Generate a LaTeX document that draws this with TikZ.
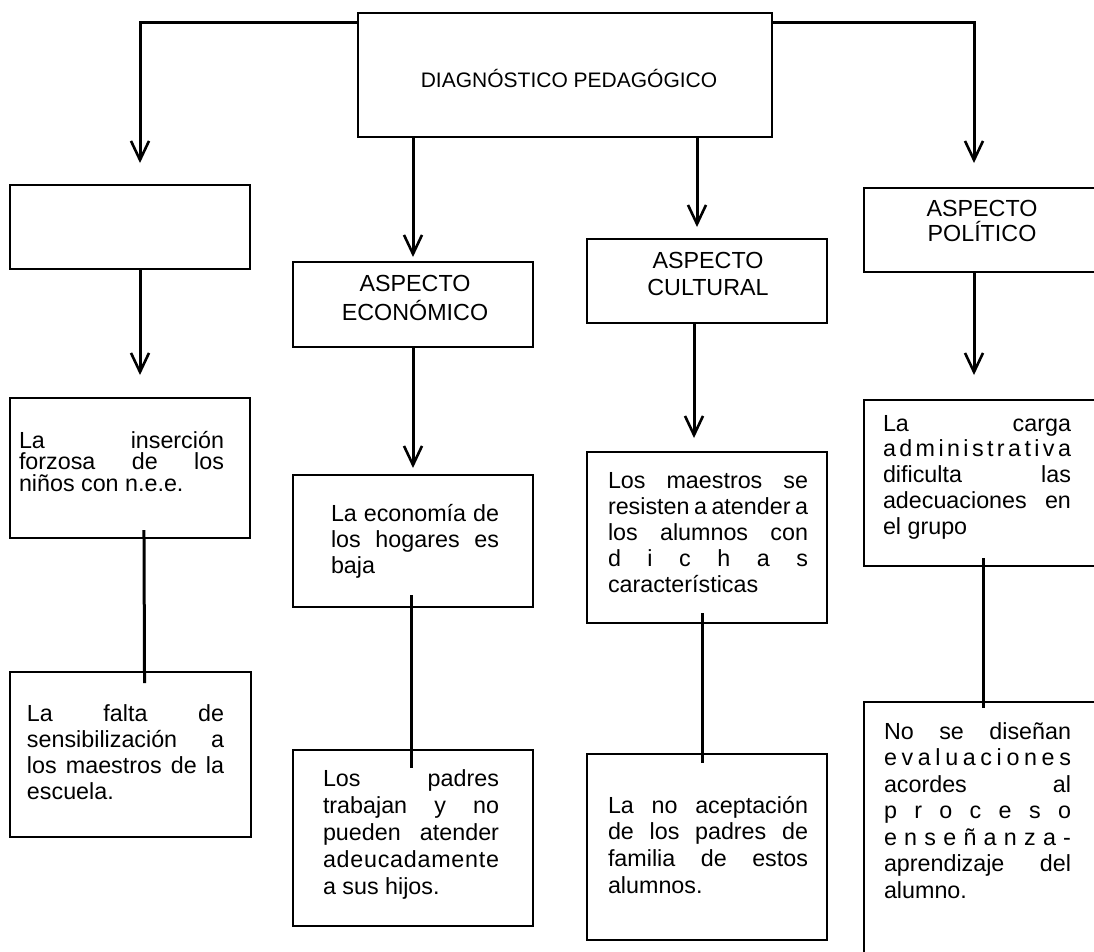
\documentclass[tikz,border=0pt]{standalone}
\usepackage{fontspec}
\setmainfont{Liberation Sans}
\newfontfamily\boxfont{Liberation Sans}
\usetikzlibrary{arrows.meta}
\newcommand\J[1]{\makebox[\linewidth][s]{#1}}
\begin{document}
\begin{tikzpicture}[x=1pt,y=1pt,
  box/.style={draw, line width=2.4pt, inner sep=0pt, outer sep=0pt, anchor=north west},
  conn/.style={line width=3pt},
  arr/.style={conn, -{Straight Barb[length=19pt,width=18pt,line width=2.6pt]}},
  txt/.style={inner sep=0pt, outer sep=0pt, anchor=base west, font=\boxfont\fontsize{23.3}{26}\selectfont},
  lbl/.style={inner sep=0pt, outer sep=0pt, anchor=base, font=\boxfont\fontsize{23.3}{26}\selectfont}]
\useasboundingbox (0,0) rectangle (1094,-951);
\clip (0,0) rectangle (1094,-951);
\fill[white] (0,0) rectangle (1094,-951);

% boxes
\node[box, minimum width=414pt, minimum height=124pt] (T) at (358,-13) {};
\node[box, minimum width=240pt, minimum height=84pt]  (A0) at (10,-185) {};
\node[box, minimum width=240pt, minimum height=140pt] (A1) at (10,-398) {};
\node[box, minimum width=241pt, minimum height=165pt] (A2) at (10,-672) {};
\node[box, minimum width=240pt, minimum height=85pt]  (B0) at (293,-262) {};
\node[box, minimum width=240pt, minimum height=132pt] (B1) at (293,-475) {};
\node[box, minimum width=240pt, minimum height=176pt] (B2) at (293,-750) {};
\node[box, minimum width=240pt, minimum height=84pt]  (C0) at (587,-239) {};
\node[box, minimum width=240pt, minimum height=171pt] (C1) at (587,-452) {};
\node[box, minimum width=240pt, minimum height=186pt] (C2) at (587,-754) {};
\node[box, minimum width=240pt, minimum height=84pt]  (D0) at (864,-188) {};
\node[box, minimum width=240pt, minimum height=166pt] (D1) at (864,-400) {};
\node[box, minimum width=240pt, minimum height=270pt] (D2) at (864,-702) {};

% texts
\node[anchor=base, inner sep=0pt, font=\fontsize{21}{25}\selectfont] (tT) at (569,-87.5) {DIAGNÓSTICO PEDAGÓGICO};
\node[lbl] (tB0) at (415,-291) {\parbox[t]{220pt}{\centering\baselineskip=29pt ASPECTO\\ECONÓMICO}};
\node[lbl] (tC0) at (708,-268) {\parbox[t]{220pt}{\centering\baselineskip=27pt ASPECTO\\CULTURAL}};
\node[lbl] (tD0) at (982,-216) {\parbox[t]{200pt}{\centering\baselineskip=25pt ASPECTO\\POLÍTICO}};

\node[txt] (tA1) at (19,-448) {\parbox[t]{205pt}{\baselineskip=21.7pt\lineskiplimit=-50pt
  \J{La inserción}\\\J{forzosa de los}\\niños con n.e.e.}};
\node[txt] (tA2) at (27,-721) {\parbox[t]{197pt}{\baselineskip=26pt\lineskiplimit=-50pt
  \J{La falta de}\\\J{sensibilización a}\\\J{los maestros de la}\\escuela.}};
\node[txt] (tB1) at (331,-521) {\parbox[t]{168pt}{\baselineskip=26pt\lineskiplimit=-50pt
  \J{La economía de}\\\J{los hogares es}\\baja}};
\node[txt] (tB2) at (323,-786) {\parbox[t]{176pt}{\baselineskip=27pt\lineskiplimit=-50pt
  \J{Los padres}\\\J{trabajan y no}\\\J{pueden atender}\\
  \J{a\hfil d\hfil e\hfil u\hfil c\hfil a\hfil d\hfil a\hfil m\hfil e\hfil n\hfil t\hfil e}\\a sus hijos.}};
\node[txt] (tC1) at (608,-488) {\parbox[t]{200pt}{\baselineskip=26.2pt\lineskiplimit=-50pt
  \J{Los maestros se}\\\J{resisten a atender a}\\\J{los alumnos con}\\
  \J{d\hfil i\hfil c\hfil h\hfil a\hfil s}\\características}};
\node[txt] (tC2) at (608,-813) {\parbox[t]{200pt}{\baselineskip=26.7pt\lineskiplimit=-50pt
  \J{La no aceptación}\\\J{de los padres de}\\\J{familia de estos}\\alumnos.}};
\node[txt] (tD1) at (883,-431) {\parbox[t]{188pt}{\baselineskip=25.75pt\lineskiplimit=-50pt
  \J{La carga}\\
  \J{a\hfil d\hfil m\hfil i\hfil n\hfil i\hfil s\hfil t\hfil r\hfil a\hfil t\hfil i\hfil v\hfil a}\\
  \J{dificulta las}\\\J{adecuaciones en}\\el grupo}};
\node[txt] (tD2) at (884,-739) {\parbox[t]{187pt}{\baselineskip=26.5pt\lineskiplimit=-50pt
  \J{No se diseñan}\\
  \J{e\hfil v\hfil a\hfil l\hfil u\hfil a\hfil c\hfil i\hfil o\hfil n\hfil e\hfil s}\\
  \J{acordes al}\\
  \J{p\hfil r\hfil o\hfil c\hfil e\hfil s\hfil o}\\
  \J{e\hfil n\hfil s\hfil e\hfil ñ\hfil a\hfil n\hfil z\hfil a\hfil -}\\
  \J{aprendizaje del}\\alumno.}};

% arrows
\draw[arr, shorten >=22pt] ([yshift=-9pt]T.north west) -| ([xshift=10pt]A0.north);
\draw[arr, shorten >=25pt] ([yshift=-9pt]T.north east) -| ([xshift=110pt]D0.north west);
\draw[arr, shorten >=5pt] (B0.north |- T.south) -- (B0.north);
\draw[arr, shorten >=12pt] ([xshift=-10pt]C0.north |- T.south) -- ([xshift=-10pt]C0.north);
\draw[arr, shorten >=23pt] ([xshift=10pt]A0.south) -- ([xshift=10pt]A1.north);
\draw[arr, shorten >=7pt] (B0.south) -- (B1.north);
\draw[arr, shorten >=14pt] ([xshift=-13pt]C0.south) -- ([xshift=-13pt]C1.north);
\draw[arr, shorten >=25pt] ([xshift=110pt]D0.south west) -- ([xshift=110pt]D1.north west);

% plain lines
\draw[conn, shorten <=-8pt, shorten >=-11pt] ([xshift=14pt]A1.south) -- ([xshift=14pt]A2.north);
\draw[conn, shorten <=-12pt, shorten >=-18pt] ([xshift=-2pt]B1.south) -- ([xshift=-2pt]B2.north);
\draw[conn, shorten <=-10pt, shorten >=-9pt] ([xshift=-5pt]C1.south) -- ([xshift=-5pt]C2.north);
\draw[conn, shorten <=-8pt, shorten >=-6pt] ([xshift=119pt]D1.south west) -- ([xshift=119pt]D2.north west);
\end{tikzpicture}
\end{document}
